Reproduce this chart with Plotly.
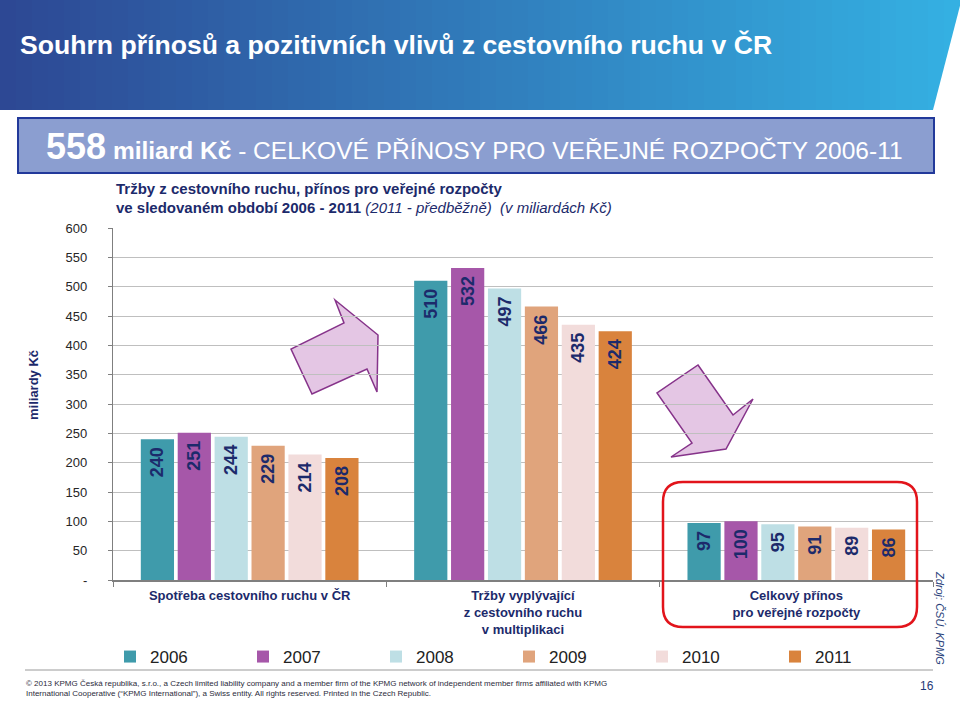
import plotly.graph_objects as go

# --------------------------
# Data
# --------------------------

categories = [
    "Spotřeba cestovního ruchu v ČR",
    "Tržby vyplývající<br>z cestovního ruchu<br>v multiplikaci",
    "Celkový přínos<br>pro veřejné rozpočty",
]
years = ["2006", "2007", "2008", "2009", "2010", "2011"]
values_2006 = [240, 510, 97]
values_2007 = [251, 532, 100]
values_2008 = [244, 497, 95]
values_2009 = [229, 466, 91]
values_2010 = [214, 435, 89]
values_2011 = [208, 424, 86]
series = [values_2006, values_2007, values_2008, values_2009, values_2010, values_2011]
colors = ["#3F9BAB", "#A657A9", "#BEDFE5", "#E0A47C", "#F2DCDB", "#D9833D"]

y_ticks = [0, 50, 100, 150, 200, 250, 300, 350, 400, 450, 500, 550, 600]
y_ticktext = ["-"] + [str(v) for v in y_ticks[1:]]

NAVY = "#1C2A6B"
FONT = "Liberation Sans, Arial, sans-serif"

# plot area in pixels (960 x 702 page)
L, R, T, B = 113, 933, 228, 580


def px(x):
    return (x - L) / (R - L)


def py(y):
    return (B - y) / (B - T)


def poly(points):
    d = "M" + " L".join(f"{px(x):.5f},{py(y):.5f}" for x, y in points)
    return d + " Z"


fig = go.Figure()

# --------------------------
# Bars
# --------------------------

for name, vals, col in zip(years, series, colors):
    fig.add_trace(
        go.Bar(
            x=categories,
            y=vals,
            name=name,
            marker=dict(color=col, line=dict(width=0)),
            text=[f"{v}\u00a0" for v in vals],
            textposition="inside",
            insidetextanchor="end",
            textangle=-90,
            constraintext="none",
            textfont=dict(family=FONT, size=18, color=NAVY, weight="bold"),
            hoverinfo="skip",
        )
    )

# --------------------------
# Shapes
# --------------------------

shapes = []

# gradient banner
c0 = (45, 72, 148)
c1 = (52, 176, 226)
n = 60
for i in range(n):
    t = i / (n - 1)
    col = tuple(round(a + (b - a) * t) for a, b in zip(c0, c1))
    x0 = 960 * i / n
    x1 = 960 * (i + 1) / n + 1
    shapes.append(dict(
        type="rect", xref="paper", yref="paper",
        x0=px(x0), x1=px(x1), y0=py(110), y1=py(-2),
        fillcolor="rgb(%d,%d,%d)" % col, line=dict(width=0), layer="above",
    ))
# slanted right edge
shapes.append(dict(
    type="path", xref="paper", yref="paper",
    path=poly([(933, 110), (962, -2), (970, -2), (970, 111)]),
    fillcolor="white", line=dict(width=0),
))

# headline box
shapes.append(dict(
    type="rect", xref="paper", yref="paper",
    x0=px(18), x1=px(934), y0=py(173), y1=py(118),
    fillcolor="#8B9ED0", line=dict(color="#22399A", width=2),
))

# arrows
shapes.append(dict(
    type="path", xref="paper", yref="paper", layer="below",
    path=poly([(335, 300), (378, 335), (377, 392), (367, 369),
               (312, 394), (291, 349), (344, 323)]),
    fillcolor="#E4C6E4", line=dict(color="#86338A", width=1.5),
))
shapes.append(dict(
    type="path", xref="paper", yref="paper", layer="below",
    path=poly([(698, 365), (733, 415), (753, 399), (726, 449),
               (671, 457), (692, 443), (657, 393)]),
    fillcolor="#E4C6E4", line=dict(color="#86338A", width=1.5),
))

# red rounded box
x0, x1, y0, y1, r = 663, 917, 482, 627, 20
path = (
    f"M{px(x0 + r)},{py(y0)} L{px(x1 - r)},{py(y0)} "
    f"Q{px(x1)},{py(y0)} {px(x1)},{py(y0 + r)} "
    f"L{px(x1)},{py(y1 - r)} Q{px(x1)},{py(y1)} {px(x1 - r)},{py(y1)} "
    f"L{px(x0 + r)},{py(y1)} Q{px(x0)},{py(y1)} {px(x0)},{py(y1 - r)} "
    f"L{px(x0)},{py(y0 + r)} Q{px(x0)},{py(y0)} {px(x0 + r)},{py(y0)} Z"
)
shapes.append(dict(
    type="path", xref="paper", yref="paper", path=path,
    line=dict(color="#E2141B", width=2.5),
))

# separator line above footer
shapes.append(dict(
    type="line", xref="paper", yref="paper",
    x0=px(25), x1=px(933), y0=py(670), y1=py(670),
    line=dict(color="#9A9A9A", width=1),
))

# --------------------------
# Annotations
# --------------------------

annotations = [
    dict(x=px(18), y=py(45), text="Souhrn přínosů a pozitivních vlivů z cestovního ruchu v ČR",
         font=dict(family=FONT, size=26.6, color="white", weight="bold")),
    dict(x=px(44), y=py(146),
         text="<b><span style='font-size:36px'>558</span> miliard Kč</b>"
              " - CELKOVÉ PŘÍNOSY PRO VEŘEJNÉ ROZPOČTY 2006-11",
         font=dict(family=FONT, size=24.5, color="white")),
    dict(x=px(114), y=py(188),
         text="<b>Tržby z cestovního ruchu, přínos pro veřejné rozpočty</b>",
         font=dict(family=FONT, size=15, color=NAVY)),
    dict(x=px(114), y=py(207),
         text="<b>ve sledovaném období 2006 - 2011</b> <i>(2011 - předběžně)  (v miliardách Kč)</i>",
         font=dict(family=FONT, size=15, color=NAVY)),
    dict(x=px(24), y=py(683),
         text="© 2013 KPMG Česká republika, s.r.o., a Czech limited liability company and a member firm"
              " of the KPMG network of independent member firms affiliated with KPMG",
         font=dict(family=FONT, size=8, color="#2B2B3B")),
    dict(x=px(24), y=py(693),
         text="International Cooperative (“KPMG International”), a Swiss entity."
              " All rights reserved. Printed in the Czech Republic.",
         font=dict(family=FONT, size=8, color="#2B2B3B")),
    dict(x=px(927), y=py(686), xanchor="center", text="16",
         font=dict(family=FONT, size=12, color="#1F3A78")),
]
for a in annotations:
    a.update(xref="paper", yref="paper", showarrow=False)
    a.setdefault("xanchor", "left")
    a.setdefault("yanchor", "middle")

annotations.append(dict(
    xref="paper", yref="paper", x=px(33), y=py(385), showarrow=False,
    xanchor="center", yanchor="middle", textangle=-90,
    text="<b>miliardy Kč</b>", font=dict(family=FONT, size=13, color=NAVY),
))
annotations.append(dict(
    xref="paper", yref="paper", x=px(940), y=py(618), showarrow=False,
    xanchor="center", yanchor="middle", textangle=90,
    text="<i>Zdroj: ČSÚ, KPMG</i>", font=dict(family=FONT, size=11, color="#2A3F7A"),
))

# --------------------------
# Layout
# --------------------------

fig.update_layout(
    width=960,
    height=702,
    autosize=False,
    margin=dict(l=L, r=960 - R, t=T, b=702 - B),
    paper_bgcolor="white",
    plot_bgcolor="white",
    barmode="group",
    bargap=0.19,
    bargroupgap=0.1,
    font=dict(family=FONT, color="#262626"),
    shapes=shapes,
    annotations=annotations,
    legend=dict(
        orientation="h",
        x=px(110),
        y=py(657),
        xanchor="left",
        yanchor="middle",
        entrywidth=88,
        entrywidthmode="pixels",
        font=dict(family=FONT, size=17, color="#222222"),
        bgcolor="rgba(0,0,0,0)",
        traceorder="normal",
    ),
    xaxis=dict(
        showline=True,
        linecolor="#7F7F7F",
        linewidth=1.5,
        ticks="outside",
        tickson="boundaries",
        ticklen=5,
        tickcolor="#7F7F7F",
        ticklabelstandoff=3,
        tickfont=dict(family=FONT, size=13, color=NAVY, weight="bold"),
        showgrid=False,
        fixedrange=True,
    ),
    yaxis=dict(
        range=[0, 600],
        tickvals=y_ticks,
        ticktext=y_ticktext,
        showline=True,
        linecolor="#7F7F7F",
        linewidth=1.2,
        ticks="outside",
        ticklen=4,
        tickcolor="#7F7F7F",
        ticklabelstandoff=18,
        tickfont=dict(family=FONT, size=13, color="#262626"),
        showgrid=True,
        gridcolor="#BFBFBF",
        gridwidth=1.3,
        zeroline=False,
        fixedrange=True,
    ),
)

fig.write_html(
    "out.html",
    config={"displayModeBar": False},
    post_script="document.body.style.margin='0';document.body.style.overflow='hidden';",
)
